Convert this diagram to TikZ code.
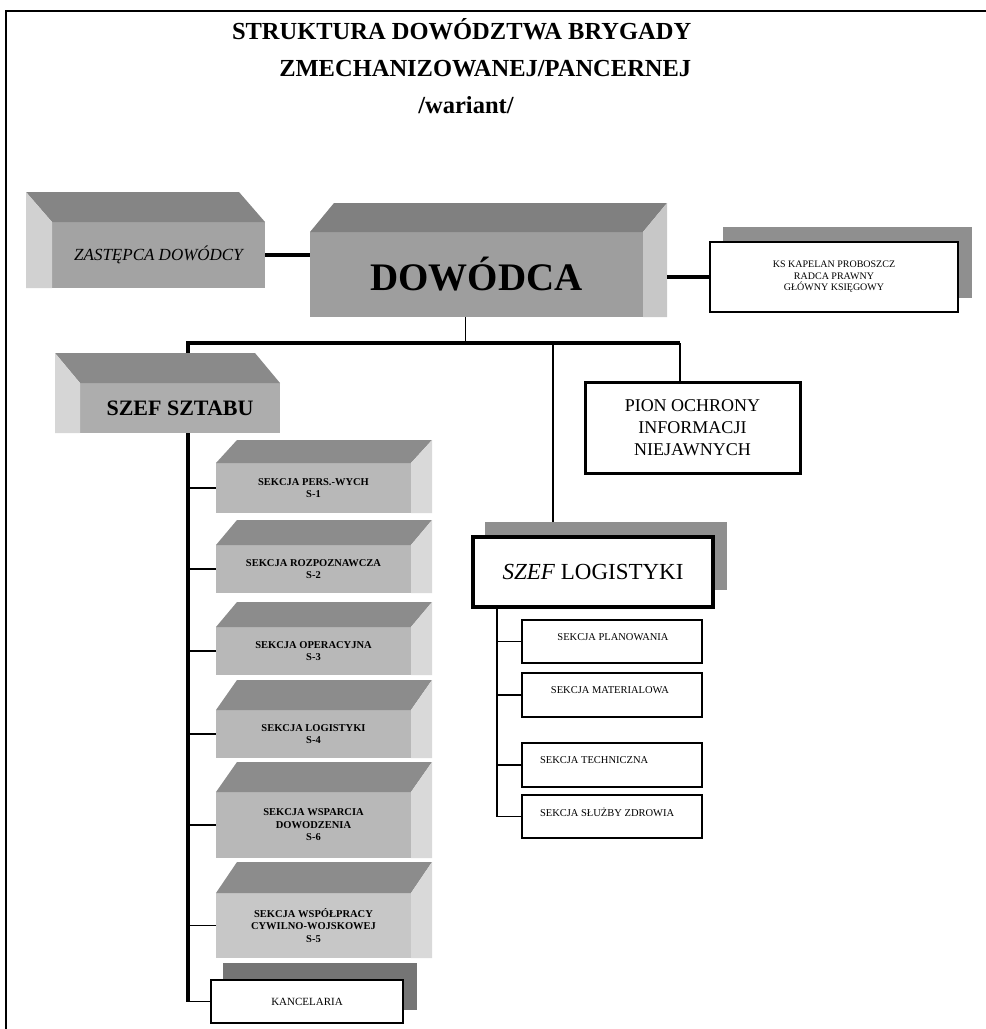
\documentclass[tikz,border=0pt]{standalone}
\usepackage{fontspec}
\setmainfont{Liberation Serif}

% face shades of the solid blocks
\definecolor{zastF}{gray}{0.64}
\definecolor{zastT}{gray}{0.52}
\definecolor{zastS}{gray}{0.82}
\definecolor{dowF}{gray}{0.62}
\definecolor{dowT}{gray}{0.50}
\definecolor{dowS}{gray}{0.78}
\definecolor{szF}{gray}{0.68}
\definecolor{szT}{gray}{0.54}
\definecolor{szS}{gray}{0.84}
\definecolor{secF}{gray}{0.72}
\definecolor{secT}{gray}{0.55}
\definecolor{secS}{gray}{0.85}
\definecolor{secFL}{gray}{0.78}
\definecolor{shadeA}{gray}{0.56}
\definecolor{shadeB}{gray}{0.46}

% top and side faces of a block receding up and to the right
\newcommand\slabRight[5]{%
  \fill[#4] (#1.north west) -- ++(#2,-#3) -- ([shift={(#2,-#3)}]#1.north east) -- (#1.north east) -- cycle;
  \fill[#5] (#1.north east) -- ++(#2,-#3) -- ([shift={(#2,0)}]#1.south east) -- (#1.south east) -- cycle;}
% top and side faces of a block receding up and to the left
\newcommand\slabLeft[5]{%
  \fill[#4] (#1.north east) -- ++(-#2,-#3) -- ([shift={(-#2,-#3)}]#1.north west) -- (#1.north west) -- cycle;
  \fill[#5] (#1.north west) -- ++(-#2,-#3) -- ([shift={(-#2,0)}]#1.south west) -- (#1.south west) -- cycle;}

\begin{document}
\begin{tikzpicture}[x=1pt,y=-1pt,
  every node/.style={inner sep=0pt,outer sep=0pt,align=center},
  wbox/.style={draw=black,fill=white,line width=1.2pt},
  heavybox/.style={draw=black,fill=white,line width=3.4pt},
  secbox/.style={fill=secF,minimum width=195pt,font=\fontsize{10.5}{12.5}\selectfont\bfseries},
  subbox/.style={wbox,minimum width=180pt},
  subtext/.style={font=\fontsize{10.5}{12}\selectfont},
  titletext/.style={font=\fontsize{24.5}{29}\selectfont\bfseries},
  bus/.style={line width=3.6pt},
  link/.style={line width=1.3pt},
  tick/.style={line width=1.8pt},
  frameline/.style={line width=1.3pt}]
\useasboundingbox (0,0) rectangle (986,1029);

% page frame
\coordinate (fTR) at (986,11);
\coordinate (fTL) at (6,11);
\coordinate (fBL) at (6,1029);
\draw[frameline] (fTR) -- (fTL) -- (fBL);

% title
\node[titletext,anchor=base west] (t1) at (232,39) {STRUKTURA DOWÓDZTWA BRYGADY};
\node[titletext,anchor=base east] (t2) at (t1.base east |- 0,76) {ZMECHANIZOWANEJ/PANCERNEJ};
\node[titletext,anchor=base] (t3) at (466,113) {/wariant/};

% deputy commander
\node[fill=zastF,minimum width=213pt,minimum height=66pt,
      font=\fontsize{17}{19}\selectfont\itshape] (zast) at (158.5,255) {ZASTĘPCA DOWÓDCY};
\slabLeft{zast}{26}{30}{zastT}{zastS}

% commander
\node[fill=dowF,minimum width=333pt,minimum height=85pt,
      font=\fontsize{39}{42}\selectfont\bfseries] (dow) at (476.5,274.5) {DOWÓDCA};
\slabRight{dow}{24}{29}{dowT}{dowS}

% chaplain, legal adviser, chief accountant
\node[fill=shadeA,minimum width=249pt,minimum height=71pt] (ksS) at (847.5,262.5) {};
\node[wbox,minimum width=248pt,minimum height=70pt,font=\fontsize{10}{11.5}\selectfont] (ks) at (834,277)
  {KS KAPELAN PROBOSZCZ\\RADCA PRAWNY\\GŁÓWNY KSIĘGOWY};

% chief of staff
\node[fill=szF,minimum width=200pt,minimum height=50pt,
      font=\fontsize{22}{26}\selectfont\bfseries] (sz) at (180,408) {SZEF SZTABU};
\slabLeft{sz}{25}{30}{szT}{szS}

% classified information protection
\node[heavybox,line width=3pt,minimum width=215pt,minimum height=91pt,
      font=\fontsize{18}{22}\selectfont] (pion) at (692.5,427.5)
  {PION OCHRONY\\INFORMACJI\\NIEJAWNYCH};

% chief of logistics
\node[fill=shadeA,minimum width=242pt,minimum height=68pt] (logS) at (606,556) {};
\node[heavybox,minimum width=240pt,minimum height=70pt,
      font=\fontsize{23}{26}\selectfont] (log) at (593,572) {\textit{SZEF} LOGISTYKI};

% staff sections
\node[secbox,minimum height=50pt] (s1) at (313.5,488) {SEKCJA PERS.-WYCH\\S-1};
\slabRight{s1}{21}{23}{secT}{secS}
\node[secbox,minimum height=48pt] (s2) at (313.5,569) {SEKCJA ROZPOZNAWCZA\\S-2};
\slabRight{s2}{21}{25}{secT}{secS}
\node[secbox,minimum height=48pt] (s3) at (313.5,651) {SEKCJA OPERACYJNA\\S-3};
\slabRight{s3}{21}{25}{secT}{secS}
\node[secbox,minimum height=48pt] (s4) at (313.5,734) {SEKCJA LOGISTYKI\\S-4};
\slabRight{s4}{21}{30}{secT}{secS}
\node[secbox,minimum height=66pt] (s6) at (313.5,825) {SEKCJA WSPARCIA\\DOWODZENIA\\S-6};
\slabRight{s6}{21}{30}{secT}{secS}
\node[secbox,fill=secFL,minimum height=65pt] (s5) at (313.5,925.5) {SEKCJA WSPÓŁPRACY\\CYWILNO-WOJSKOWEJ\\S-5};
\slabRight{s5}{21}{31}{secT}{secS}

% registry office
\node[fill=shadeB,minimum width=194pt,minimum height=47pt] (kancS) at (320,986.5) {};
\node[wbox,minimum width=192pt,minimum height=43pt,font=\fontsize{11}{13}\selectfont] (kanc) at (307,1001.5)
  {KANCELARIA};

% logistics sections
\node[subbox,minimum height=43pt] (lp) at (612,641.5) {};
\node[subtext] (lpt) at (613,637) {SEKCJA PLANOWANIA};
\node[subbox,minimum height=44pt] (lm) at (612,695) {};
\node[subtext] (lmt) at (610,690) {SEKCJA MATERIALOWA};
\node[subbox,minimum height=44pt] (lt) at (612,765) {};
\node[subtext,anchor=west] (ltt) at (540,760) {SEKCJA TECHNICZNA};
\node[subbox,minimum height=43pt] (lz) at (612,816.5) {};
\node[subtext,anchor=west] (lzt) at (540,812) {SEKCJA SŁUŻBY ZDROWIA};

% connectors at the top level
\draw[bus] (zast.east) -- (zast.east -| dow.west);
\coordinate (dowR) at ([shift={(24,0)}]dow.east);
\draw[bus] (dowR |- ks.west) -- (ks.west);

\coordinate (busL) at (188,343);
\coordinate (busR) at (680,343);
\coordinate (dowDrop) at ([shift={(-11,0)}]dow.south);
\path (sz.north) ++(0,-30) coordinate (szBack);
\draw[link] (dowDrop) -- (dowDrop |- busL);
\draw[bus] (busR) -- (busL) -- (busL |- szBack);
\draw[link] (busR) -- (busR |- pion.north);
\coordinate (logDrop) at (553,343);
\draw[link] (logDrop) -- (logDrop |- logS.north);

% chief of staff spine and its sections
\draw[bus] (busL |- sz.south) -- (busL |- kanc.west);
\foreach \n in {s1,s2,s3,s4,s6,s5,kanc}
  \draw[tick] (busL |- \n.west) -- (\n.west);

% chief of logistics spine and its sections
\coordinate (lsp) at ([shift={(24,0)}]log.south west);
\draw[link] (lsp) -- (lsp |- lz.west);
\foreach \n in {lp,lm,lt,lz}
  \draw[link] (lsp |- \n.west) -- (\n.west);

\end{tikzpicture}
\end{document}
